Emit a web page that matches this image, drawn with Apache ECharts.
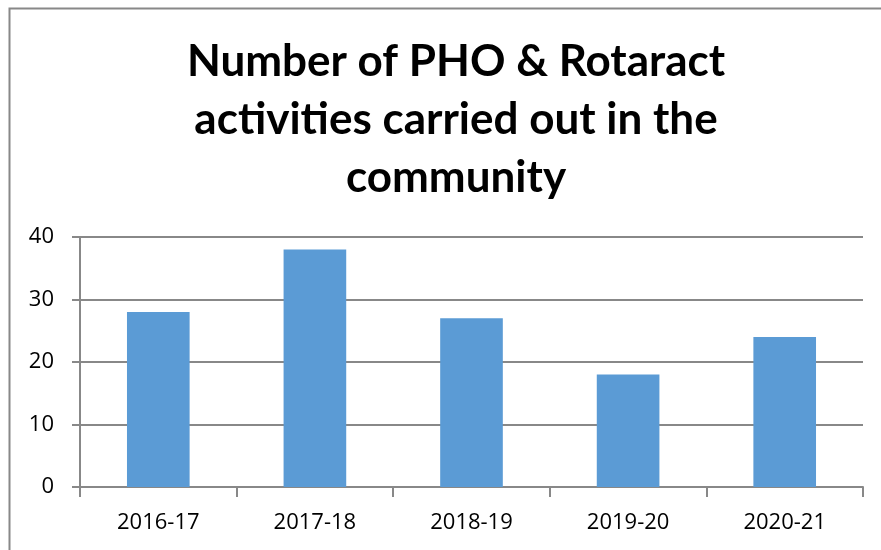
<!DOCTYPE html>
<html>
<head>
<meta charset="utf-8">
<script src="https://cdn.jsdelivr.net/npm/echarts@6/dist/echarts.min.js"></script>
<style>
  html, body { margin: 0; padding: 0; background: #fff; }
  #chart { width: 881px; height: 550px; }
</style>
</head>
<body>
<div id="chart"></div>
<script>
// data
const years = ["2016-17", "2017-18", "2018-19", "2019-20", "2020-21"];
const activities = [28, 38, 27, 18, 24];
const yTicks = [0, 10, 20, 30, 40];

const chart = echarts.init(document.getElementById("chart"));

const option = {
  backgroundColor: "#fff",
  animation: false,
  title: {
    text: "Number of PHO & Rotaract\nactivities carried out in the\ncommunity",
    left: 451,
    top: 28,
    textAlign: "center",
    textStyle: {
      fontFamily: "Lato",
      fontWeight: "bold",
      fontSize: 44,
      lineHeight: 58,
      color: "#000"
    }
  },
  // outer chart frame (only top and left edges show)
  graphic: [
    {
      type: "rect",
      shape: { x: 9.5, y: 8.5, width: 900, height: 600 },
      style: { fill: "none", stroke: "#888", lineWidth: 2 },
      silent: true
    }
  ],
  grid: {
    left: 80,
    right: 18,
    top: 237,
    bottom: 63
  },
  xAxis: {
    type: "category",
    data: years,
    axisLine: { lineStyle: { color: "#888", width: 2 } },
    axisTick: { show: true, alignWithLabel: false, length: 10, lineStyle: { color: "#888", width: 2 } },
    axisLabel: { color: "#000", fontSize: 22, fontFamily: "Open Sans", margin: 25 }
  },
  yAxis: {
    type: "value",
    min: yTicks[0],
    max: yTicks[yTicks.length - 1],
    interval: 10,
    axisLine: { show: true, lineStyle: { color: "#888", width: 2 } },
    axisTick: { show: true, length: 8, lineStyle: { color: "#888", width: 2 } },
    splitLine: { lineStyle: { color: "#888", width: 2 } },
    axisLabel: { color: "#000", fontSize: 22, fontFamily: "Open Sans", margin: 26 }
  },
  series: [
    {
      type: "bar",
      data: activities,
      barWidth: "40%",
      itemStyle: { color: "#5B9BD5" }
    }
  ]
};

chart.setOption(option);
</script>
</body>
</html>
